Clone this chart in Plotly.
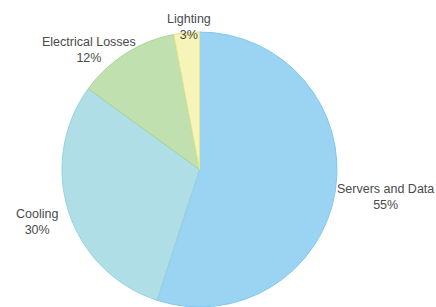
import plotly.graph_objects as go

labels = ["Servers and Data", "Cooling", "Electrical Losses", "Lighting"]
values = [55, 30, 12, 3]
fill_colors = ["#9bd4f3", "#afdee6", "#c0e0b0", "#f6f4b8"]
line_colors = ["#7fc8ee", "#95d3de", "#a9d495", "#e8e58a"]

W, H = 436, 307
# label block centres in pixels (from top-left)
label_pos = [(385, 197), (37, 222), (89, 50), (189, 27)]

fig = go.Figure(go.Pie(
    labels=labels,
    values=values,
    sort=False,
    direction="clockwise",
    rotation=0,
    marker=dict(colors=fill_colors, line=dict(color=line_colors, width=1)),
    textinfo="none",
    showlegend=False,
    hoverinfo="label+percent",
    domain=dict(x=[62 / W, 337 / W], y=[0, 275 / H]),
))

total = sum(values)
for lab, val, (px, py) in zip(labels, values, label_pos):
    fig.add_annotation(
        x=px / W, y=1 - py / H, xref="paper", yref="paper",
        text=f"{lab}<br>{round(100 * val / total)}%",
        showarrow=False, xanchor="center", yanchor="middle", align="center",
        font=dict(family="Liberation Sans, Arial, sans-serif", size=12.5, color="#4a4a4a"),
    )

fig.update_layout(
    width=W, height=H,
    margin=dict(l=0, r=0, t=0, b=0),
    paper_bgcolor="white",
    plot_bgcolor="white",
)
fig.write_html("out.html", config={"displayModeBar": False},
               post_script="document.body.style.margin='0';document.body.style.padding='0';")
